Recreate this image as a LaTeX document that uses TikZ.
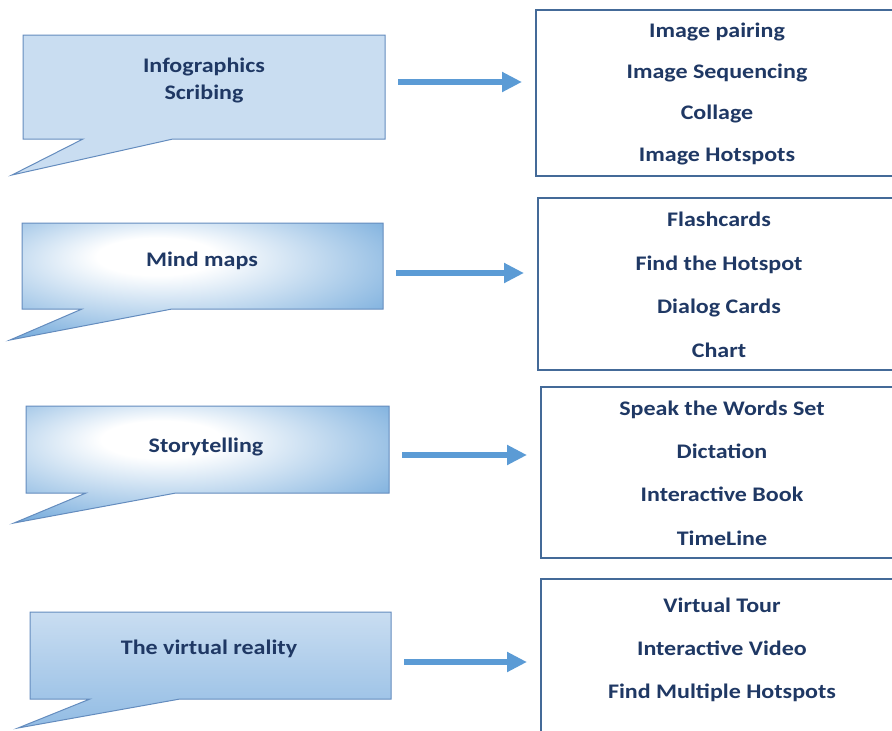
\documentclass[tikz,border=0pt]{standalone}
\usepackage{fontspec}
\setmainfont{Carlito}[FakeStretch=1.16]
\usetikzlibrary{arrows.meta,positioning}
\definecolor{ink}{RGB}{31,56,100}
\definecolor{rim}{RGB}{100,140,190}
\definecolor{pale}{RGB}{201,221,241}
\definecolor{mid}{RGB}{91,155,213}
\definecolor{frame}{RGB}{68,106,152}
\pgfdeclareradialshading{glow}{\pgfpoint{-6bp}{12bp}}{color(0bp)=(white); color(8bp)=(white); color(42bp)=(mid); color(72bp)=(mid!85!black)}

\begin{document}
\begin{tikzpicture}[x=1pt,y=-1pt,
    bubble/.style={draw=rim,line width=1pt},
    head/.style={text=ink,font=\fontsize{20.7}{27}\selectfont\bfseries,align=center,anchor=base},
    item/.style={text=ink,font=\fontsize{20.7}{27}\selectfont\bfseries,anchor=base},
    listbox/.style={draw=frame,line width=2.2pt,fill=white,anchor=north west,minimum width=380},
    link/.style={line width=5.5pt,mid,-{Triangle[length=20pt,width=19pt]},shorten <=13pt,shorten >=13pt}]
    \useasboundingbox (0,0) rectangle (892,731);
    \clip (0,0) rectangle (892,731);

    % speech bubbles
    \draw[bubble,fill=pale] (23,35) -- (385,35) -- (385,139) -- (173,139) -- (12,175) -- (83,139) -- (23,139) -- cycle;
    \draw[bubble,shade,shading=glow] (22,223) -- (383,223) -- (383,309) -- (172,309) -- (10,340) -- (82,309) -- (22,309) -- cycle;
    \draw[bubble,shade,shading=glow] (26,406) -- (389,406) -- (389,493) -- (176,493) -- (14,523) -- (86,493) -- (26,493) -- cycle;
    \draw[bubble,top color=pale,bottom color={rgb,255:red,146;green,188;blue,228}] (30,612) -- (391,612) -- (391,699) -- (180,699) -- (18,728) -- (90,699) -- (30,699) -- cycle;

    \node[head] (t1) at (204,99) {Infographics\\Scribing};
    \node[head] (t2) at (202,266) {Mind maps};
    \node[head] (t3) at (206,452) {Storytelling};
    \node[head] (t4) at (209,654) {The virtual reality};

    % lists
    \node[listbox,minimum height=166] (l1) at (535,9) {};
    \node[listbox,minimum height=172] (l2) at (537,197) {};
    \node[listbox,minimum height=171] (l3) at (540,386) {};
    \node[listbox,minimum height=200] (l4) at (540,578) {};

    \node[item] (a1) at (717,37) {Image pairing};
    \node[item] (a2) at (717,78) {Image Sequencing};
    \node[item] (a3) at (717,119) {Collage};
    \node[item] (a4) at (717,161) {Image Hotspots};

    \node[item] (b1) at (719,226) {Flashcards};
    \node[item] (b2) at (719,270) {Find the Hotspot};
    \node[item] (b3) at (719,313) {Dialog Cards};
    \node[item] (b4) at (719,357) {Chart};

    \node[item] (c1) at (722,415) {Speak the Words Set};
    \node[item] (c2) at (722,458) {Dictation};
    \node[item] (c3) at (722,501) {Interactive Book};
    \node[item] (c4) at (722,545) {TimeLine};

    \node[item] (d1) at (722,612) {Virtual Tour};
    \node[item] (d2) at (722,655) {Interactive Video};
    \node[item] (d3) at (722,698) {Find Multiple Hotspots};

    % arrows
    \coordinate (s1) at (385,82);
    \coordinate (s2) at (383,273);
    \coordinate (s3) at (389,455);
    \coordinate (s4) at (391,662);
    \draw[link] (s1) -- (s1 -| l1.west);
    \draw[link] (s2) -- (s2 -| l2.west);
    \draw[link] (s3) -- (s3 -| l3.west);
    \draw[link] (s4) -- (s4 -| l4.west);
\end{tikzpicture}
\end{document}
